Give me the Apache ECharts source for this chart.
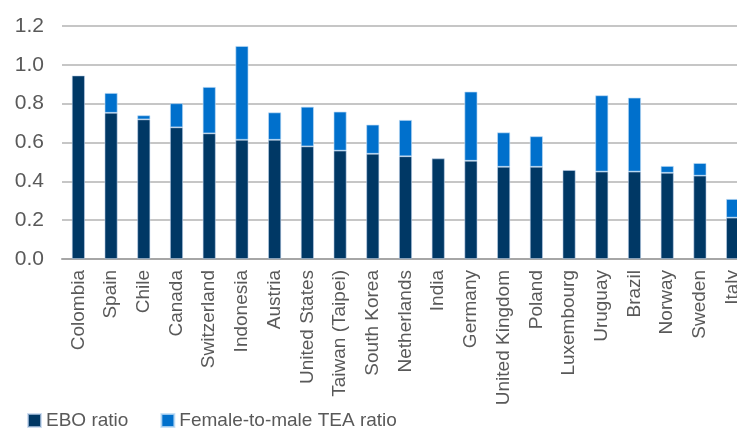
<!DOCTYPE html>
<html><head><meta charset="utf-8">
<script src="https://cdn.jsdelivr.net/npm/echarts@6/dist/echarts.min.js"></script>
<style>html,body{margin:0;padding:0;overflow:hidden;background:#fff}#c{width:760px;height:429px}</style>
</head><body><div id="c"></div>
<script>
const categories = ["Colombia","Spain","Chile","Canada","Switzerland","Indonesia","Austria","United States","Taiwan (Taipei)","South Korea","Netherlands","India","Germany","United Kingdom","Poland","Luxembourg","Uruguay","Brazil","Norway","Sweden","Italy"];
const eboRatio = [0.945,0.753,0.719,0.678,0.647,0.614,0.614,0.580,0.558,0.542,0.529,0.518,0.506,0.475,0.475,0.458,0.450,0.450,0.444,0.429,0.213];
const teaRatio = [-0.015,0.102,0.021,0.124,0.239,0.483,0.141,0.204,0.201,0.150,0.187,-0.015,0.356,0.177,0.157,-0.015,0.393,0.381,0.035,0.065,0.096];
const yTicks = [0.0,0.2,0.4,0.6,0.8,1.0,1.2];

const font = "'Liberation Sans', Arial, sans-serif";
const chart = echarts.init(document.getElementById('c'), null, {renderer:'canvas'});
chart.setOption({
  animation:false,
  grid:{left:62,right:11,top:26,bottom:170,containLabel:false},
  legend:{
    left:22, top:406, padding:5, itemWidth:13, itemHeight:13, itemGap:32, icon:'rect',
    textStyle:{fontFamily:font,fontSize:19,color:'#595959'},
    data:['EBO ratio','Female-to-male TEA ratio']
  },
  xAxis:{
    type:'category', data:categories,
    axisLine:{show:true,lineStyle:{color:'#a6a6a6',width:2}},
    axisTick:{show:false},
    axisLabel:{rotate:90,interval:0,margin:11,fontFamily:font,fontSize:19,color:'#595959'}
  },
  yAxis:{
    type:'value', min:yTicks[0], max:yTicks[yTicks.length-1], interval:0.2,
    axisLine:{show:false}, axisTick:{show:false},
    splitLine:{lineStyle:{color:'#b3b3b3',width:1.5}},
    axisLabel:{margin:18,fontFamily:font,fontSize:21,color:'#595959',formatter:v=>v.toFixed(1)}
  },
  series:[
    {name:'EBO ratio',type:'bar',stack:'s',data:eboRatio,barWidth:13,
     itemStyle:{color:'#003865',borderColor:'rgba(190,210,235,0.7)',borderWidth:0.8}},
    {name:'Female-to-male TEA ratio',type:'bar',stack:'s',data:teaRatio,barWidth:13,
     itemStyle:{color:'#0070CC',borderColor:'rgba(190,220,245,0.8)',borderWidth:0.8}}
  ]
});
</script></body></html>
